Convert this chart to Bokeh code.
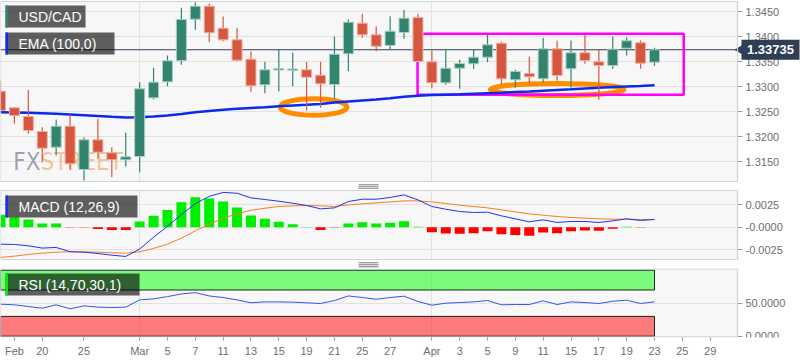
import pandas as pd
from bokeh.plotting import figure
from bokeh.layouts import column
from bokeh.models import (Range1d, FixedTicker, CustomJSTickFormatter, Span, Label,
                          BoxAnnotation, ColumnDataSource)
from bokeh.core.properties import value
from bokeh.embed import file_html
from bokeh.resources import INLINE

# ---------------- data ----------------
dates = [d.strftime("%Y-%m-%d") for d in pd.bdate_range("2019-02-15", "2019-04-23")]
axis_days = [d.strftime("%Y-%m-%d") for d in pd.bdate_range("2019-02-15", "2019-05-10")]

open_ = [1.32906, 1.32574, 1.32400, 1.32100, 1.31786, 1.32206, 1.31340, 1.31934, 1.31674, 1.31534,
         1.31600, 1.32774, 1.33094, 1.33520, 1.34346, 1.34606, 1.34166, 1.33934, 1.33546, 1.33034,
         1.33330, 1.33324, 1.33334, 1.33226, 1.33040, 1.33654, 1.34266, 1.34034, 1.33820, 1.34080,
         1.34380, 1.33494, 1.33074, 1.33366, 1.33454, 1.33586, 1.33866, 1.33134, 1.33260, 1.33154,
         1.33754, 1.33354, 1.33674, 1.33494, 1.33420, 1.33766, 1.33874, 1.33486]
high = [1.33120, 1.32590, 1.32934, 1.32186, 1.32340, 1.32434, 1.31986, 1.32354, 1.31786, 1.32074,
        1.33086, 1.33374, 1.33620, 1.34574, 1.34686, 1.34660, 1.34400, 1.34174, 1.33700, 1.33494,
        1.33734, 1.33674, 1.33494, 1.33494, 1.34000, 1.34340, 1.34454, 1.34200, 1.34406, 1.34534,
        1.34454, 1.33720, 1.33754, 1.33534, 1.33734, 1.34034, 1.33900, 1.33334, 1.33600, 1.33974,
        1.33920, 1.33920, 1.34034, 1.33734, 1.34000, 1.33986, 1.33920, 1.33774]
low = [1.32480, 1.32254, 1.32054, 1.31486, 1.31620, 1.31334, 1.31120, 1.31554, 1.31186, 1.31400,
       1.31286, 1.32746, 1.33006, 1.33434, 1.34134, 1.33886, 1.33906, 1.33506, 1.32894, 1.32866,
       1.32900, 1.33006, 1.32520, 1.32574, 1.32746, 1.33306, 1.33974, 1.33706, 1.33746, 1.33954,
       1.33480, 1.32966, 1.33034, 1.32954, 1.33354, 1.33486, 1.33040, 1.32980, 1.33074, 1.33086,
       1.33120, 1.32974, 1.33454, 1.32734, 1.33354, 1.33620, 1.33354, 1.33414]
close = [1.32520, 1.32420, 1.32120, 1.31766, 1.32206, 1.31454, 1.31934, 1.31686, 1.31534, 1.31594,
         1.32954, 1.33086, 1.33514, 1.34340, 1.34606, 1.34074, 1.33934, 1.33526, 1.33014, 1.33334,
         1.33350, 1.33340, 1.33186, 1.33054, 1.33646, 1.34286, 1.34034, 1.33806, 1.34106, 1.34366,
         1.33500, 1.33074, 1.33366, 1.33460, 1.33586, 1.33834, 1.33154, 1.33300, 1.33194, 1.33754,
         1.33220, 1.33674, 1.33520, 1.33420, 1.33746, 1.33914, 1.33466, 1.33735]
ema100 = [1.32486, 1.32480, 1.32474, 1.32466, 1.32454, 1.32440, 1.32426, 1.32410, 1.32394, 1.32380,
          1.32384, 1.32400, 1.32420, 1.32450, 1.32484, 1.32510, 1.32534, 1.32554, 1.32570, 1.32586,
          1.32604, 1.32620, 1.32634, 1.32650, 1.32680, 1.32700, 1.32720, 1.32740, 1.32764, 1.32794,
          1.32816, 1.32828, 1.32836, 1.32844, 1.32854, 1.32864, 1.32874, 1.32888, 1.32900, 1.32916,
          1.32930, 1.32944, 1.32960, 1.32974, 1.32988, 1.33000, 1.33012, 1.33026]

macd_line = [-0.00187, -0.00190, -0.00205, -0.00230, -0.00223, -0.00270, -0.00275, -0.00290, -0.00308, -0.00322,
             -0.00240, -0.00110, 0.00010, 0.00140, 0.00260, 0.00340, 0.00383, 0.00374, 0.00323, 0.00305,
             0.00286, 0.00264, 0.00239, 0.00202, 0.00213, 0.00283, 0.00308, 0.00308, 0.00327, 0.00356,
             0.00301, 0.00228, 0.00198, 0.00173, 0.00162, 0.00165, 0.00125, 0.00092, 0.00059, 0.00081,
             0.00052, 0.00063, 0.00063, 0.00052, 0.00070, 0.00092, 0.00074, 0.00085]
signal_line = [-0.00333, -0.00319, -0.00300, -0.00286, -0.00275, -0.00271, -0.00271, -0.00275, -0.00282, -0.00286,
               -0.00271, -0.00234, -0.00187, -0.00121, -0.00040, 0.00033, 0.00099, 0.00147, 0.00187, 0.00209,
               0.00228, 0.00235, 0.00239, 0.00235, 0.00228, 0.00246, 0.00257, 0.00268, 0.00279, 0.00290,
               0.00290, 0.00279, 0.00261, 0.00242, 0.00228, 0.00213, 0.00191, 0.00169, 0.00147, 0.00132,
               0.00118, 0.00107, 0.00099, 0.00092, 0.00088, 0.00088, 0.00085, 0.00085]
macd_hist = [0.00136, 0.00110, 0.00085, 0.00040, 0.00040, -0.00003, -0.00003, -0.00020, -0.00030, -0.00030,
             0.00062, 0.00125, 0.00190, 0.00275, 0.00330, 0.00316, 0.00283, 0.00217, 0.00128, 0.00092,
             0.00059, 0.00033, 0.00003, -0.00030, -0.00004, 0.00040, 0.00055, 0.00040, 0.00048, 0.00066,
             0.00005, -0.00055, -0.00070, -0.00073, -0.00066, -0.00044, -0.00077, -0.00085, -0.00095, -0.00059,
             -0.00066, -0.00044, -0.00037, -0.00040, -0.00018, 0.00004, -0.00004, 0.00000]
rsi = [48.5, 47.6, 45.0, 42.4, 47.6, 41.5, 46.0, 44.0, 43.5, 44.0,
       55.0, 56.6, 60.0, 64.0, 66.0, 61.0, 58.6, 55.0, 50.6, 52.0,
       52.0, 51.5, 50.6, 49.5, 54.0, 61.0, 58.6, 56.0, 58.6, 60.6,
       52.6, 47.0, 50.0, 51.0, 52.0, 54.0, 47.6, 48.0, 48.0, 53.6,
       48.0, 52.0, 51.0, 49.5, 53.0, 54.5, 49.5, 52.0]

tick_dates = ["2019-02-18", "2019-02-20", "2019-02-25", "2019-03-01", "2019-03-05", "2019-03-07",
              "2019-03-11", "2019-03-13", "2019-03-15", "2019-03-19", "2019-03-21", "2019-03-25",
              "2019-03-27", "2019-04-01", "2019-04-03", "2019-04-05", "2019-04-09", "2019-04-11",
              "2019-04-15", "2019-04-17", "2019-04-19", "2019-04-23", "2019-04-25", "2019-04-29"]
tick_labels = ["Feb", "20", "25", "Mar", "5", "7", "11", "13", "15", "19", "21", "25", "27",
               "Apr", "3", "5", "9", "11", "15", "17", "19", "23", "25", "29"]
month_starts = ["2019-03-01", "2019-04-01"]

price_ticks = [1.3150, 1.3200, 1.3250, 1.3300, 1.3350, 1.3400, 1.3450]
macd_ticks = [-0.0025, 0.0, 0.0025]
rsi_ticks = [0, 50]
rsi_upper, rsi_lower = 70, 30

# drawn annotations (date index / price)
range_box = dict(left=29.97, right=49.1, top=1.34054, bottom=1.32834)
ellipses_x = [22.5, 40.0]
ellipses_y = [1.32590, 1.32940]
ellipses_w = [4.8, 9.6]
ellipses_h = [0.0033, 0.0024]

# ---------------- layout (pixel geometry of the panels) ----------------
STEP_PX = 13.915          # pixels per trading day
W = 800                   # whole width
PANEL_W = 737             # plotting panel width; axis labels to its right
FONT = "Liberation Sans"
WM_FONT = "DejaVu Sans Condensed, Liberation Sans Narrow, Roboto"
PANEL_BG = "#f7f7f7"
EDGE = "#cdd3df"
GRID = "#e2e2e2"

X0 = 0.0
XP = X0 + PANEL_W / STEP_PX
XE = X0 + W / STEP_PX


def px2x(px):
    return X0 + px / STEP_PX


# page-row -> value calibrations of the three panels
def v1(y):
    return 1.3450 - (y - 11) / 5000.0


def v2(y):
    return 0.0025 - (y - 204) * 0.0025 / 22.7


def v3(y):
    return 50.0 - (y - 302.7) * 50.0 / 33.0


pos = {d: i for i, d in enumerate(axis_days)}
xs = [pos[d] for d in dates]
xr = Range1d(X0, XE)


def make_fig(y_top, y_bot, vf, xaxis, bottom_border=0):
    fh = y_bot - y_top
    yr = Range1d(vf(y_bot), vf(y_top))
    p = figure(frame_width=W, frame_height=fh, x_range=xr, y_range=yr,
               output_backend="svg", toolbar_location=None,
               y_axis_location="right", x_axis_location=("below" if xaxis else None),
               min_border=0, min_border_left=0, min_border_right=0, min_border_top=0,
               min_border_bottom=bottom_border,
               background_fill_color="white", border_fill_color="white",
               outline_line_color=None)
    ax = p.yaxis[0]
    ax.fixed_location = XP
    ax.axis_line_color = None
    ax.major_tick_in = 0
    ax.major_tick_out = 5
    ax.major_tick_line_color = "#9a9a9a"
    ax.minor_tick_line_color = None
    ax.major_label_text_font = FONT
    ax.major_label_text_font_size = "11px"
    ax.major_label_text_color = "#6e6e6e"
    ax.major_label_standoff = 3
    p.ygrid.grid_line_color = GRID
    p.xgrid.grid_line_color = GRID
    p.xgrid.ticker = FixedTicker(ticks=[pos[d] for d in month_starts])
    return p, yr


def panel(p, top, bottom, yr):
    # grey plotting panel under the grid
    p.add_layout(BoxAnnotation(left=X0, right=XP, top=top, bottom=bottom,
                               fill_color=PANEL_BG, fill_alpha=1.0, line_color=None,
                               level="image"))


def covers(p, top, bottom, yr):
    # hide grid lines outside the plotting panel
    for l, r, t, b in [(XP, XE + 1, yr.end + 1, yr.start - 1),
                       (X0 - 1, XE + 1, bottom, yr.start - 1),
                       (X0 - 1, XE + 1, yr.end + 1, top)]:
        if t > b:
            p.add_layout(BoxAnnotation(left=l, right=r, top=t, bottom=b, fill_color="white",
                                       fill_alpha=1.0, line_color=None, level="underlay"))


def outline(p, top, bottom):
    p.add_layout(BoxAnnotation(left=X0, right=XP, top=top, bottom=bottom, fill_color=None,
                               line_color=EDGE, line_width=1.2, line_alpha=1.0,
                               level="annotation"))


def legend_box(p, vf, text, y_top_px, right_px, bar_color):
    t = vf(y_top_px)
    b = vf(y_top_px + 22)
    p.quad(left=[px2x(5)], right=[px2x(right_px)], top=[t], bottom=[b],
           fill_color="black", fill_alpha=0.62, line_color=None)
    p.quad(left=[px2x(5)], right=[px2x(7.5)], top=[t], bottom=[b],
           fill_color=bar_color, line_color=None)
    p.text(x=[px2x(18)], y=[(t + b) / 2], text=[text], text_color="white",
           text_font=value(FONT), text_font_size="14px", text_baseline="middle",
           text_align="left")


def handle(p, vf, y_mid):
    ys = [vf(y_mid - 2), vf(y_mid), vf(y_mid + 2)]
    p.segment(x0=[px2x(358)] * 3, x1=[px2x(378)] * 3, y0=ys, y1=ys,
              line_color="#7a7a7a", line_width=1)


# ---------------- main price panel: page rows 0..189, panel 1..181 ----------------
p1, yr1 = make_fig(0, 189, v1, False)
p1.yaxis[0].ticker = FixedTicker(ticks=price_ticks)
p1.yaxis[0].formatter = CustomJSTickFormatter(code="return tick.toFixed(4);")
top1, bot1 = v1(1), v1(181)
panel(p1, top1, bot1, yr1)
p1.add_layout(Span(location=close[-1], dimension="width", line_color="#2f3f57",
                   line_width=1.2, level="underlay"))
covers(p1, top1, bot1, yr1)

# watermark
p1.text(x=[px2x(40)], y=[1.3150], text=["FX"], text_color="#8e939c", text_alpha=0.85,
        text_font=value(WM_FONT), text_font_size="24px",
        text_align="right", text_baseline="alphabetic")
p1.text(x=[px2x(40)], y=[1.3150], text=["STREET"], text_color="#f2a65a", text_alpha=0.65,
        text_font=value(WM_FONT), text_font_size="24px",
        text_align="left", text_baseline="alphabetic")

p1.ellipse(x=ellipses_x, y=ellipses_y, width=ellipses_w, height=ellipses_h,
           fill_color=None, line_color="#ff8c00", line_width=5)
p1.quad(left=[range_box["left"]], right=[range_box["right"]], top=[range_box["top"]],
        bottom=[range_box["bottom"]], fill_color=None, line_color="#ff00ff", line_width=2.5)
p1.line(xs, ema100, line_color="#0a2af0", line_width=2.5)

up = [c >= o for o, c in zip(open_, close)]
src = ColumnDataSource(dict(
    x=xs, high=high, low=low,
    top=[max(o, c) + (0.0001 if abs(o - c) < 0.0002 else 0) for o, c in zip(open_, close)],
    bottom=[min(o, c) for o, c in zip(open_, close)],
    color=["#33846f" if u else "#d6573f" for u in up],
    edge=["#a6cfc3" if u else "#efb0a3" for u in up],
))
p1.segment(x0="x", y0="low", x1="x", y1="high", line_color="color", line_width=1.2, source=src)
p1.vbar(x="x", width=0.72, top="top", bottom="bottom", fill_color="color",
        line_color="edge", line_width=1, source=src)

legend_box(p1, v1, "USD/CAD", 5, 85, "#2e8571")
legend_box(p1, v1, "EMA (100,0)", 32, 114, "#0a2af0")
outline(p1, top1, bot1)

# last-price marker right of the panel
p1.scatter(x=[px2x(739)], y=[close[-1]], marker="triangle", size=9, angle=1.5708,
           fill_color="#2d3e55", line_color=None)
p1.add_layout(BoxAnnotation(left=px2x(741), right=px2x(799), top=close[-1] + 10 / 5000.0,
                            bottom=close[-1] - 10 / 5000.0, fill_color="#2d3e55",
                            fill_alpha=1.0, line_color=None, level="annotation"))
p1.add_layout(Label(x=px2x(770), y=close[-1], text=f"{close[-1]:.5f}", text_color="white",
                    text_font=FONT, text_font_size="13px", text_font_style="bold",
                    text_baseline="middle", text_align="center"))
handle(p1, v1, 186.3)

# ---------------- MACD panel: page rows 189..268, panel 190..259 ----------------
p2, yr2 = make_fig(189, 268, v2, False)
p2.yaxis[0].ticker = FixedTicker(ticks=macd_ticks)
p2.yaxis[0].formatter = CustomJSTickFormatter(
    code="return (Math.abs(tick) < 1e-9) ? '-0.0000' : tick.toFixed(4);")
top2, bot2 = v2(190), v2(259)
panel(p2, top2, bot2, yr2)
covers(p2, top2, bot2, yr2)
p2.vbar(x=xs, width=0.72, top=macd_hist, bottom=0,
        fill_color=["#00ee00" if h >= 0 else "#ff0000" for h in macd_hist], line_color=None)
p2.line(xs, signal_line, line_color="#ff7a1a", line_width=1)
p2.line(xs, macd_line, line_color="#2233ee", line_width=1)
legend_box(p2, v2, "MACD (12,26,9)", 195, 137, "#1a2ef5")
outline(p2, top2, bot2)
handle(p2, v2, 264.3)

# ---------------- RSI panel: page rows 268..337 ----------------
p3, yr3 = make_fig(268, 337, v3, True, bottom_border=18)
p3.yaxis[0].ticker = FixedTicker(ticks=rsi_ticks)
p3.yaxis[0].formatter = CustomJSTickFormatter(code="return tick.toFixed(4);")
top3, bot3 = v3(268.5), v3(336.5)
panel(p3, top3, bot3, yr3)
covers(p3, top3, bot3, yr3)
p3.quad(left=[xs[0]], right=[xs[-1]], top=[100], bottom=[rsi_upper], fill_color="#00ff00",
        fill_alpha=0.5, line_color="black", line_alpha=0.85, line_width=1)
p3.quad(left=[xs[0]], right=[xs[-1]], top=[rsi_lower], bottom=[0], fill_color="#ff0000",
        fill_alpha=0.5, line_color="black", line_alpha=0.85, line_width=1)
p3.line(xs, rsi, line_color="#3355ee", line_width=1)
legend_box(p3, v3, "RSI (14,70,30,1)", 273, 139, "#00ee00")
outline(p3, top3, bot3)

xa = p3.xaxis[0]
xa.ticker = FixedTicker(ticks=[pos[d] for d in tick_dates])
xa.major_label_overrides = {pos[d]: lab for d, lab in zip(tick_dates, tick_labels)}
xa.axis_line_color = None
xa.major_tick_in = 0
xa.major_tick_out = 3
xa.major_tick_line_color = "#9a9a9a"
xa.minor_tick_line_color = None
xa.major_label_text_font = FONT
xa.major_label_text_font_size = "11px"
xa.major_label_text_color = "#6e6e6e"
xa.major_label_standoff = 4

layout = column(p1, p2, p3, spacing=0)
open("out.html", "w").write(file_html(layout, INLINE))
